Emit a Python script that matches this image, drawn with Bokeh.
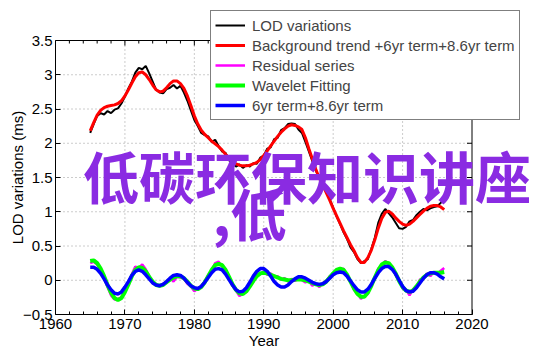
from bokeh.plotting import figure
from bokeh.models import Range1d, FixedTicker, LinearAxis, Label
from bokeh.embed import file_html
from bokeh.resources import INLINE

# ---------------- data ----------------
years = [1965 + 0.5 * i for i in range(103)]  # 1965.0 ... 2016.0

lod = [2.15, 2.28, 2.40, 2.44, 2.42, 2.47, 2.44, 2.49, 2.51, 2.58,
       2.68, 2.80, 2.90, 3.03, 3.10, 3.08, 3.13, 3.02, 2.90, 2.78,
       2.74, 2.73, 2.79, 2.81, 2.85, 2.80, 2.84, 2.74, 2.62, 2.48,
       2.34, 2.25, 2.15, 2.12, 2.10, 2.02, 2.05, 1.96, 1.88, 1.86,
       1.75, 1.72, 1.66, 1.69, 1.64, 1.68, 1.66, 1.71, 1.70, 1.79,
       1.82, 1.92, 1.94, 2.06, 2.08, 2.19, 2.22, 2.28, 2.29, 2.28,
       2.20, 2.15, 2.02, 1.88, 1.74, 1.60, 1.50, 1.40, 1.30, 1.18,
       1.06, 0.93, 0.82, 0.70, 0.60, 0.48, 0.41, 0.31, 0.25, 0.28,
       0.31, 0.46, 0.62, 0.84, 0.97, 1.04, 0.98, 0.92, 0.84, 0.76,
       0.75, 0.78, 0.86, 0.88, 0.95, 1.00, 1.04, 1.02, 1.05, 1.07,
       1.08, 1.13, 1.20]

trend = [2.18, 2.30, 2.41, 2.48, 2.52, 2.54, 2.55, 2.56, 2.58, 2.62,
         2.69, 2.78, 2.88, 2.97, 3.03, 3.04, 3.00, 2.93, 2.85, 2.78,
         2.75, 2.76, 2.81, 2.87, 2.91, 2.91, 2.87, 2.80, 2.69, 2.55,
         2.40, 2.28, 2.19, 2.13, 2.08, 2.03, 1.99, 1.95, 1.90, 1.84,
         1.78, 1.73, 1.70, 1.68, 1.67, 1.67, 1.68, 1.70, 1.72, 1.76,
         1.82, 1.89, 1.96, 2.03, 2.10, 2.16, 2.21, 2.25, 2.27, 2.26,
         2.24, 2.20, 2.08, 1.92, 1.77, 1.62, 1.49, 1.39, 1.28, 1.17,
         1.05, 0.94, 0.83, 0.72, 0.62, 0.52, 0.43, 0.33, 0.26, 0.26,
         0.33, 0.44, 0.59, 0.76, 0.90, 0.99, 1.01, 0.97, 0.91, 0.86,
         0.82, 0.80, 0.82, 0.86, 0.91, 0.96, 1.01, 1.05, 1.08, 1.09,
         1.09, 1.07, 1.03]

residual = [0.25, 0.27, 0.23, 0.16, 0.04, -0.10, -0.22, -0.28, -0.27, -0.25,
            -0.16, -0.04, 0.09, 0.20, 0.18, 0.23, 0.16, 0.06, -0.04, -0.06,
            -0.09, -0.05, -0.03, 0.03, -0.02, 0.05, 0.04, 0.02, -0.05, -0.09,
            -0.16, -0.12, -0.08, -0.02, 0.08, 0.14, 0.25, 0.27, 0.20, 0.16,
            0.03, -0.08, -0.15, -0.23, -0.20, -0.17, -0.07, -0.02, 0.08, 0.09,
            0.13, 0.08, 0.10, 0.05, 0.06, 0.01, 0.03, -0.02, 0.02, -0.01,
            0.03, 0.00, -0.03, -0.01, -0.08, -0.05, -0.10, -0.04, -0.03, 0.06,
            0.08, 0.16, 0.15, 0.17, 0.06, -0.01, -0.14, -0.19, -0.27, -0.23,
            -0.20, -0.06, 0.02, 0.17, 0.21, 0.28, 0.24, 0.20, 0.08, 0.01,
            -0.12, -0.14, -0.22, -0.13, -0.11, 0.01, 0.02, 0.10, 0.06, 0.12,
            0.09, 0.14, 0.18]

wavelet = [0.28, 0.29, 0.25, 0.17, 0.06, -0.07, -0.18, -0.26, -0.29, -0.26,
           -0.17, -0.06, 0.06, 0.15, 0.19, 0.18, 0.13, 0.05, -0.02, -0.07,
           -0.08, -0.07, -0.03, 0.01, 0.04, 0.06, 0.06, 0.03, -0.02, -0.08,
           -0.12, -0.13, -0.10, -0.03, 0.06, 0.15, 0.22, 0.24, 0.22, 0.15,
           0.05, -0.06, -0.14, -0.19, -0.20, -0.16, -0.09, -0.01, 0.06, 0.10,
           0.11, 0.10, 0.08, 0.06, 0.04, 0.02, 0.01, 0.00, 0.00, 0.01,
           0.01, 0.01, 0.00, -0.02, -0.04, -0.06, -0.07, -0.06, -0.02, 0.04,
           0.10, 0.15, 0.17, 0.15, 0.08, -0.02, -0.12, -0.20, -0.24, -0.24,
           -0.18, -0.08, 0.04, 0.15, 0.23, 0.26, 0.25, 0.19, 0.10, -0.01,
           -0.10, -0.15, -0.17, -0.15, -0.09, -0.02, 0.04, 0.08, 0.10, 0.11,
           0.11, 0.11, 0.12]

terms = [0.19, 0.19, 0.16, 0.10, 0.02, -0.07, -0.14, -0.19, -0.20, -0.17,
         -0.10, -0.02, 0.07, 0.13, 0.15, 0.13, 0.08, 0.02, -0.04, -0.07,
         -0.08, -0.06, -0.02, 0.03, 0.07, 0.08, 0.07, 0.03, -0.03, -0.08,
         -0.11, -0.12, -0.09, -0.03, 0.04, 0.11, 0.16, 0.17, 0.15, 0.09,
         0.01, -0.07, -0.14, -0.17, -0.16, -0.11, -0.03, 0.06, 0.13, 0.17,
         0.17, 0.13, 0.06, -0.02, -0.07, -0.10, -0.10, -0.07, -0.02, 0.02,
         0.05, 0.05, 0.03, 0.00, -0.03, -0.05, -0.06, -0.05, -0.02, 0.03,
         0.08, 0.11, 0.12, 0.11, 0.06, -0.01, -0.08, -0.14, -0.17, -0.17,
         -0.13, -0.06, 0.03, 0.11, 0.17, 0.20, 0.20, 0.16, 0.09, 0.00,
         -0.09, -0.15, -0.17, -0.16, -0.11, -0.04, 0.03, 0.08, 0.11, 0.11,
         0.09, 0.05, 0.02]

x_ticks = [1960, 1970, 1980, 1990, 2000, 2010, 2020]
x_minor = [1962, 1964, 1966, 1968, 1972, 1974, 1976, 1978, 1982, 1984, 1986, 1988,
           1992, 1994, 1996, 1998, 2002, 2004, 2006, 2008, 2012, 2014, 2016, 2018]
y_ticks = [-0.5, 0, 0.5, 1, 1.5, 2, 2.5, 3, 3.5]
y_tick_labels = ["\u22120.5", "0", "0.5", "1", "1.5", "2", "2.5", "3", "3.5"]

series_names = ["LOD variations", "Background trend +6yr term+8.6yr term",
                "Residual series", "Wavelet Fitting", "6yr term+8.6yr term"]
watermark_line1 = "低碳环保知识讲座"
watermark_line2 = ",低"

# ---------------- layout (pixels) ----------------
W, H = 542, 356
BOX_L, BOX_R, BOX_T, BOX_B = 55, 471.5, 40, 314
x0, x1 = x_ticks[0], x_ticks[-1]
y0, y1 = y_ticks[0], y_ticks[-1]
sx = (BOX_R - BOX_L) / (x1 - x0)   # px per year
sy = (BOX_B - BOX_T) / (y1 - y0)   # px per ms

# the frame fills the whole canvas, the axes box is drawn at fixed locations
xr = Range1d(x0 - BOX_L / sx, x0 + (W - BOX_L) / sx)
yr = Range1d(y0 - (H - BOX_B) / sy, y1 + BOX_T / sy)

FONT = "Liberation Sans"
p = figure(width=W, height=H, output_backend="svg", toolbar_location=None,
           x_range=xr, y_range=yr, x_axis_location=None, y_axis_location=None,
           min_border=0, background_fill_color="white", border_fill_color="white")
p.outline_line_color = None
p.grid.visible = False

xt = FixedTicker(ticks=x_ticks, minor_ticks=x_minor)
yt = FixedTicker(ticks=y_ticks, minor_ticks=[])

common = dict(axis_label_text_font=FONT, axis_label_text_font_size="15px",
              axis_label_text_font_style="normal", major_label_text_font=FONT,
              major_label_text_font_size="15px", major_tick_in=5, major_tick_out=0,
              minor_tick_in=3, minor_tick_out=0, axis_line_color="black",
              major_tick_line_color="black", minor_tick_line_color="black",
              axis_label_text_color="black", major_label_text_color="black")

xaxis = LinearAxis(ticker=xt, fixed_location=y0, bounds=(x0, x1), axis_label="Year",
                   major_label_standoff=4, axis_label_standoff=0, **common)
yaxis = LinearAxis(ticker=yt, fixed_location=x0, bounds=(y0, y1),
                   axis_label="LOD variations (ms)", major_label_standoff=3,
                   axis_label_standoff=-6,
                   major_label_overrides={v: s for v, s in zip(y_ticks, y_tick_labels)},
                   **common)
p.add_layout(xaxis, "below")
p.add_layout(yaxis, "left")

# dotted grid inside the box
gx = x_ticks[1:-1]
gy = y_ticks[1:-1]
p.segment(x0=gx, y0=[y0] * len(gx), x1=gx, y1=[y1] * len(gx),
          line_color="#999999", line_dash="1 3", line_width=1)
p.segment(x0=[x0] * len(gy), y0=gy, x1=[x1] * len(gy), y1=gy,
          line_color="#999999", line_dash="1 3", line_width=1)

# box: top and right edges with inward ticks
p.segment(x0=[x0, x1], y0=[y1, y0], x1=[x1, x1], y1=[y1, y1], line_color="black", line_width=1)
p.segment(x0=[x1] * len(gy), y0=gy, x1=[x1 - 5 / sx] * len(gy), y1=gy, line_color="black", line_width=1)
p.segment(x0=gx, y0=[y1] * len(gx), x1=gx, y1=[y1 - 5 / sy] * len(gx), line_color="black", line_width=1)
p.segment(x0=x_minor, y0=[y1] * len(x_minor), x1=x_minor, y1=[y1 - 3 / sy] * len(x_minor),
          line_color="black", line_width=1)

p.line(years, lod, line_color="black", line_width=2, legend_label=series_names[0])
p.line(years, trend, line_color="#ff0000", line_width=3, legend_label=series_names[1])
p.line(years, residual, line_color="#ff00ff", line_width=2.5, legend_label=series_names[2])
p.line(years, wavelet, line_color="#00ff00", line_width=4, legend_label=series_names[3])
p.line(years, terms, line_color="#0000ff", line_width=3.5, legend_label=series_names[4])

lg = p.legend[0]
lg.location = (210, H - 120)
lg.label_text_font = FONT
lg.label_text_font_size = "15px"
lg.label_height = 20
lg.glyph_height = 14
lg.glyph_width = 30
lg.label_standoff = 7
lg.spacing = 0
lg.padding = 4
lg.margin = 0
lg.border_line_color = "black"
lg.border_line_width = 1
lg.background_fill_alpha = 1

wm_font = "Noto Sans CJK SC"
p.add_layout(Label(x=1963.96, y=1.55, text=watermark_line1, text_font=wm_font,
                   text_font_size="56px", text_font_style="bold",
                   text_color="#8a2be2", text_baseline="middle", text_align="left"))
p.add_layout(Label(x=1982.6, y=1.0, text=watermark_line2, text_font=wm_font,
                   text_font_size="56px", text_font_style="bold",
                   text_color="#8a2be2", text_baseline="middle", text_align="left"))

open("out.html", "w").write(file_html(p, INLINE))
